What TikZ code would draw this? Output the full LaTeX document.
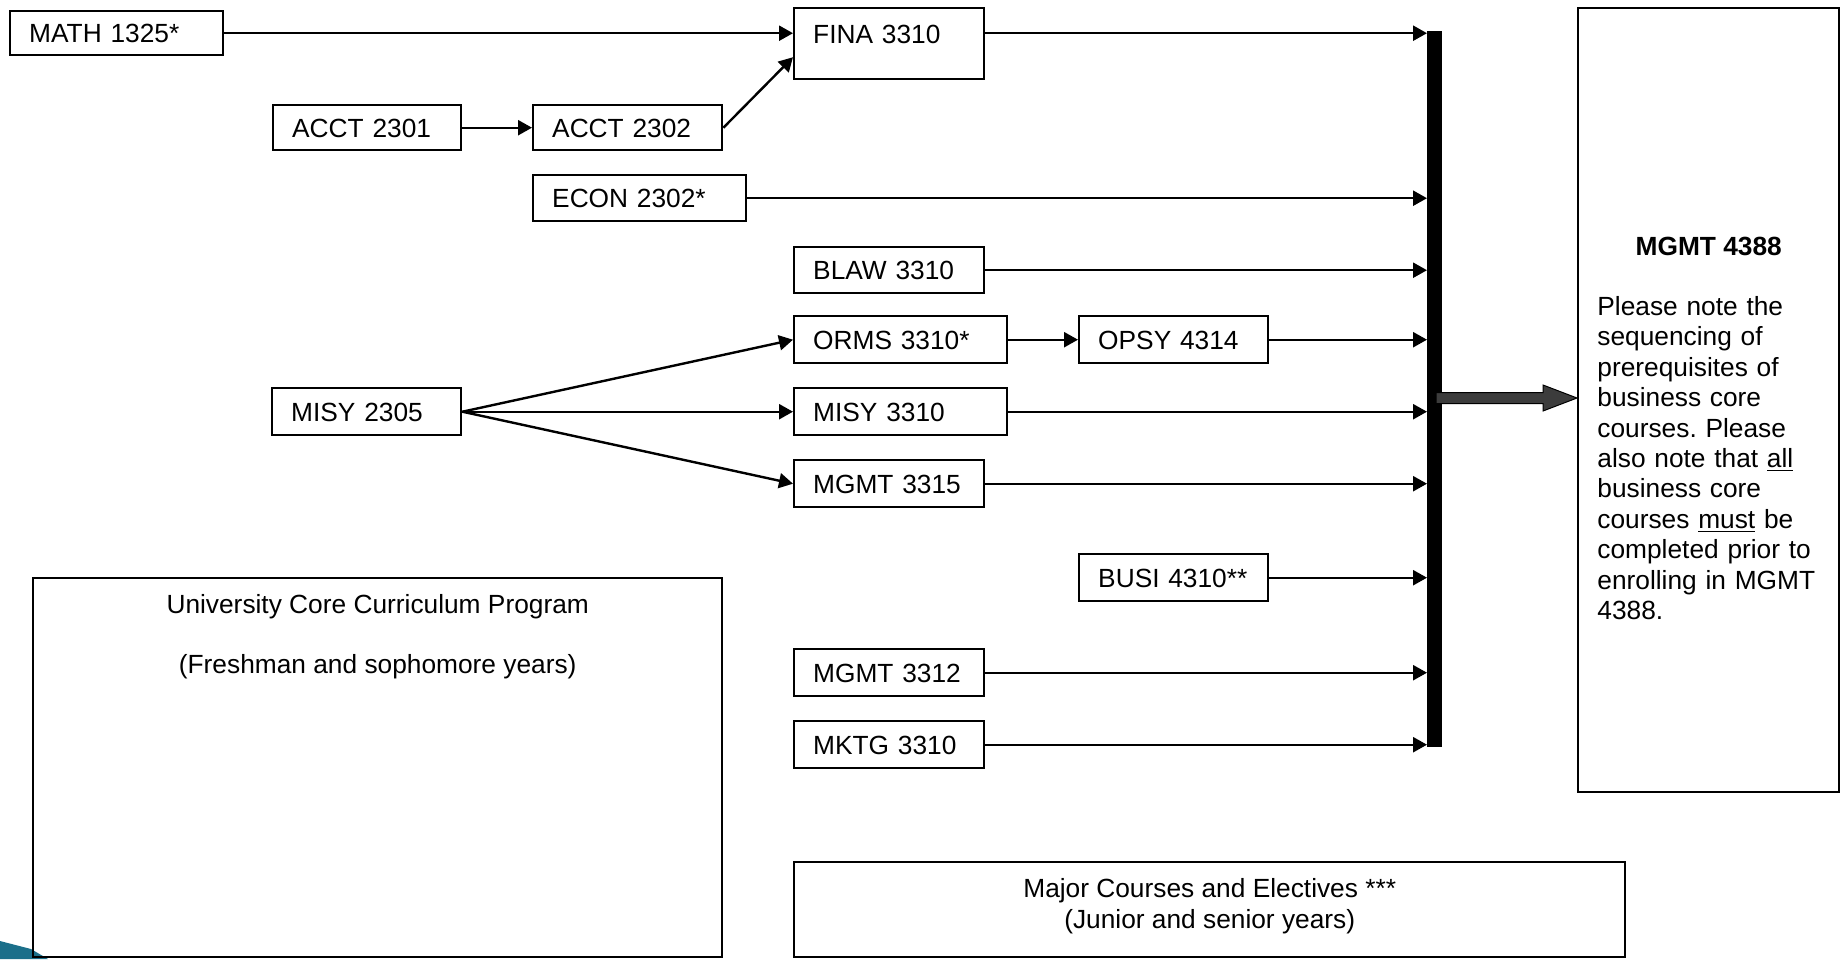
\documentclass[tikz,border=0pt]{standalone}
\usepackage{fontspec}
\setmainfont{Liberation Sans}
\usetikzlibrary{arrows.meta,calc}
\definecolor{arrowgray}{HTML}{3C3C3C}
\definecolor{decoteal}{HTML}{1B6F8A}
\frenchspacing
\begin{document}
\begin{tikzpicture}[x=0.5pt,y=-0.5pt,
  every node/.style={font=\fontsize{13.15pt}{15.2pt}\selectfont},
  box/.style={draw=black,line width=1.2pt,anchor=north west,inner sep=0pt},
  course/.style={box,align=left,inner xsep=9.5pt,text height=9.4pt,text depth=0pt},
  conn/.style={line width=1.2pt,-{Triangle[length=7pt,width=7.5pt]}},
  plain/.style={inner sep=0pt}]
\useasboundingbox (0,0) rectangle (1845,959);

% decoration
\fill[decoteal] (0,941) -- (31,949) -- (48,959) -- (0,959) -- cycle;

% course boxes
\node[course,text width=87.5pt,minimum height=22pt] (math) at (9,10) {MATH 1325*};
\node[course,text width=76pt,minimum height=35.5pt,text depth=9.5pt] (fina) at (793,7) {FINA 3310};
\node[course,text width=75pt,minimum height=22.5pt] (acct1) at (272,104) {ACCT 2301};
\node[course,text width=75.5pt,minimum height=22.5pt] (acct2) at (532,104) {ACCT 2302};
\node[course,text width=87.5pt,minimum height=23pt] (econ) at (532,174) {ECON 2302*};
\node[course,text width=76pt,minimum height=23pt] (blaw) at (793,246) {BLAW 3310};
\node[course,text width=87.5pt,minimum height=23.5pt] (orms) at (793,315) {ORMS 3310*};
\node[course,text width=75.5pt,minimum height=23.5pt] (opsy) at (1078,315) {OPSY 4314};
\node[course,text width=75.5pt,minimum height=23.5pt] (misy1) at (271,387) {MISY 2305};
\node[course,text width=87.5pt,minimum height=23.5pt] (misy2) at (793,387) {MISY 3310};
\node[course,text width=76pt,minimum height=23.5pt] (mgmt15) at (793,459) {MGMT 3315};
\node[course,text width=75.5pt,minimum height=23.5pt] (busi) at (1078,553) {BUSI 4310**};
\node[course,text width=76pt,minimum height=23.5pt] (mgmt12) at (793,648) {MGMT 3312};
\node[course,text width=76pt,minimum height=23.5pt] (mktg) at (793,720) {MKTG 3310};

% big boxes
\node[box,minimum width=344.5pt,minimum height=189.5pt] (univ) at (32,577) {};
\node[plain,anchor=base] (univt1) at ($(univ.north)+(0,36.5)$) {University Core Curriculum Program};
\node[plain,anchor=base] (univt2) at ($(univ.north)+(0,96.5)$) {(Freshman and sophomore years)};

\node[box,minimum width=415.5pt,minimum height=47.5pt] (major) at (793,861) {};
\node[plain,anchor=base] (majort1) at ($(major.north)+(0,36)$) {Major Courses and Electives ***};
\node[plain,anchor=base] (majort2) at ($(major.north)+(0,67)$) {(Junior and senior years)};

\node[box,minimum width=130.5pt,minimum height=392pt] (mg) at (1577,7) {};
\node[plain,anchor=base,font=\fontsize{13.15pt}{15.2pt}\selectfont\bfseries] (mgt) at ($(mg.north)+(0,248.5)$) {MGMT 4388};
\node[plain,anchor=base west,text width=118pt,align=left] (mgp) at ($(mg.north west)+(20,308.5)$)
 {Please note the\\ sequencing of\\ prerequisites of\\ business core\\ courses. Please\\ also note that \underline{all}\\ business core\\ courses \underline{must} be\\ completed prior to\\ enrolling in MGMT\\ 4388.};

% bar
\node[fill=black,inner sep=0pt,minimum width=7.5pt,minimum height=358pt,anchor=north west] (bar) at (1427,31) {};

% big arrow
\coordinate (as) at ($(bar.north west)+(9,367)$);
\coordinate (ae) at (mg.west |- as);
\draw[line width=0.5pt,fill=arrowgray] ($(as)+(0,-5.5)$) -- ($(ae)+(-34,-5.5)$) -- ($(ae)+(-34,-13)$) -- (ae)
  -- ($(ae)+(-34,13)$) -- ($(ae)+(-34,5.5)$) -- ($(as)+(0,5.5)$) -- cycle;

% connectors
\draw[conn] (math.east) -- (math.east -| fina.west);
\draw[conn] (acct1) -- (acct2);
\draw[conn] (acct2.east) -- ([yshift=-6.75pt]fina.west);
\draw[conn] (fina.east |- math.east) -- (math.east -| bar.west);
\draw[conn] (econ) -- (econ -| bar.west);
\draw[conn] (blaw) -- (blaw -| bar.west);
\draw[conn] (orms) -- (opsy);
\draw[conn] (opsy) -- (opsy -| bar.west);
\draw[conn] (misy1.east) -- (orms.west);
\draw[conn] (misy1.east) -- (misy2.west);
\draw[conn] (misy1.east) -- (mgmt15.west);
\draw[conn] (misy2) -- (misy2 -| bar.west);
\draw[conn] (mgmt15) -- (mgmt15 -| bar.west);
\draw[conn] (busi) -- (busi -| bar.west);
\draw[conn] (mgmt12) -- (mgmt12 -| bar.west);
\draw[conn] (mktg) -- (mktg -| bar.west);
\end{tikzpicture}
\end{document}
